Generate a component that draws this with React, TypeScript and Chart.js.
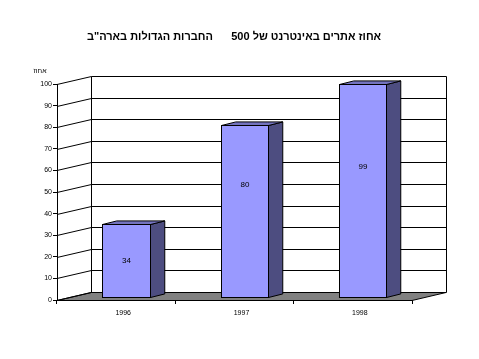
import React, { useEffect, useRef } from "react";
import { Chart, registerables } from "chart.js";
Chart.register(...registerables);

const TITLE = 'אחוז אתרים באינטרנט של 500      החברות הגדולות בארה"ב';
const AXIS_UNIT = "אחוז";
const YEARS = ["1996", "1997", "1998"];
const VALUES = [34, 80, 99];
const LABEL_FRAC = [0.5, 0.65, 0.61];
const Y_MIN = 0;
const Y_MAX = 100;
const Y_STEP = 10;

const FONT = "Arial, 'Liberation Sans', sans-serif";
const DX = 34;
const DY = -8.5;
const BAR_FRONT = 0.29;
const BAR_BACK = 0.71;
const FRONT_COLOR = "#9999FF";
const SIDE_COLOR = "#4D4D80";
const TOP_COLOR = "#7373BF";
const FLOOR_COLOR = "#808080";

const threeD = {
  id: "threeD",
  beforeDatasetsDraw(chart: any) {
    const { ctx, chartArea, scales } = chart;
    const { left, right, bottom } = chartArea;
    const y = scales.y;
    ctx.save();
    ctx.strokeStyle = "#000";
    ctx.lineWidth = 1;
    // floor
    const fb = Math.round(bottom + DY) + 0.5;
    ctx.fillStyle = FLOOR_COLOR;
    ctx.beginPath();
    ctx.moveTo(left, bottom + 0.5);
    ctx.lineTo(right, bottom + 0.5);
    ctx.lineTo(right + DX, fb);
    ctx.lineTo(left + DX, fb);
    ctx.closePath();
    ctx.fill();
    ctx.stroke();
    // gridlines on back wall
    const topBack = Math.round(y.getPixelForValue(Y_MAX) + DY) + 0.5;
    y.ticks.forEach((t: any) => {
      const py = Math.round(y.getPixelForValue(t.value)) + 0.5;
      const by = Math.round(py + DY) + 0.5;
      ctx.beginPath();
      ctx.moveTo(left, py);
      ctx.lineTo(left + DX + 0.5, by);
      ctx.lineTo(right + DX + 0.5, by);
      ctx.stroke();
    });
    ctx.beginPath();
    ctx.moveTo(left + DX + 0.5, topBack);
    ctx.lineTo(left + DX + 0.5, fb);
    ctx.moveTo(right + DX + 0.5, topBack);
    ctx.lineTo(right + DX + 0.5, fb);
    ctx.stroke();
    ctx.restore();
  },
  afterDatasetsDraw(chart: any) {
    const { ctx, scales } = chart;
    const y = scales.y;
    const meta = chart.getDatasetMeta(0);
    ctx.save();
    ctx.strokeStyle = "#000";
    ctx.lineWidth = 1;
    meta.data.forEach((bar: any, i: number) => {
      const p = bar.getProps(["x", "y", "base", "width"], true);
      const ox = BAR_FRONT * DX;
      const oy = BAR_FRONT * DY;
      const ddx = (BAR_BACK - BAR_FRONT) * DX;
      const ddy = (BAR_BACK - BAR_FRONT) * DY;
      const x0 = Math.round(p.x - p.width / 2 + ox) + 0.5;
      const x1 = Math.round(p.x + p.width / 2 + ox) + 0.5;
      const yt = Math.round(p.y + oy) + 0.5;
      const yb = Math.round(p.base + oy) + 0.5;
      // side
      ctx.fillStyle = SIDE_COLOR;
      ctx.beginPath();
      ctx.moveTo(x1, yt);
      ctx.lineTo(x1 + ddx, yt + ddy);
      ctx.lineTo(x1 + ddx, yb + ddy);
      ctx.lineTo(x1, yb);
      ctx.closePath();
      ctx.fill();
      ctx.stroke();
      // top
      ctx.fillStyle = TOP_COLOR;
      ctx.beginPath();
      ctx.moveTo(x0, yt);
      ctx.lineTo(x0 + ddx, yt + ddy);
      ctx.lineTo(x1 + ddx, yt + ddy);
      ctx.lineTo(x1, yt);
      ctx.closePath();
      ctx.fill();
      ctx.stroke();
      // front
      ctx.fillStyle = FRONT_COLOR;
      ctx.fillRect(x0, yt, x1 - x0, yb - yt);
      ctx.strokeRect(x0, yt, x1 - x0, yb - yt);
      // label
      const v = VALUES[i];
      ctx.fillStyle = "#000";
      ctx.font = `8px ${FONT}`;
      ctx.textAlign = "center";
      ctx.textBaseline = "middle";
      ctx.fillText(String(v), (x0 + x1) / 2, y.getPixelForValue(v * LABEL_FRAC[i]) + oy);
    });
    ctx.restore();
  },
  afterDraw(chart: any) {
    const { ctx } = chart;
    ctx.save();
    ctx.fillStyle = "#000";
    ctx.direction = "rtl";
    ctx.textAlign = "center";
    ctx.textBaseline = "middle";
    ctx.font = `bold 11px ${FONT}`;
    ctx.fillText(TITLE, 234, 37);
    ctx.font = `7px ${FONT}`;
    ctx.fillText(AXIS_UNIT, 40, 71);
    ctx.restore();
  },
};

export default function App() {
  const ref = useRef<HTMLCanvasElement>(null);
  useEffect(() => {
    document.body.style.margin = "0";
    const chart = new Chart(ref.current as HTMLCanvasElement, {
      type: "bar",
      data: {
        labels: YEARS,
        datasets: [
          {
            data: VALUES,
            backgroundColor: "rgba(0,0,0,0)",
            borderWidth: 0,
            barPercentage: 0.4,
            categoryPercentage: 1,
          },
        ],
      },
      options: {
        responsive: false,
        animation: false,
        devicePixelRatio: 1,
        layout: { padding: { top: 84, right: 67, left: 0, bottom: 0 } },
        plugins: {
          legend: { display: false },
          tooltip: { enabled: false },
          title: { display: false },
        },
        scales: {
          x: {
            grid: { display: true, drawOnChartArea: false, tickLength: 4, color: "#000", offset: true },
            border: { display: true, color: "#000" },
            ticks: { color: "#000", font: { size: 7, family: FONT }, padding: 5, maxRotation: 0, labelOffset: 7 },
            afterFit: (s: any) => {
              s.height = 59;
            },
          },
          y: {
            min: Y_MIN,
            max: Y_MAX,
            ticks: { stepSize: Y_STEP, color: "#000", font: { size: 7, family: FONT }, padding: 1 },
            grid: { drawOnChartArea: false, tickLength: 4, color: "#000" },
            border: { display: true, color: "#000" },
            afterFit: (s: any) => {
              s.width = 57;
            },
          },
        },
      } as any,
      plugins: [threeD],
    });
    return () => chart.destroy();
  }, []);
  return (
    <canvas
      ref={ref}
      width={479}
      height={359}
      style={{ position: "absolute", left: 0, top: 0, width: 479, height: 359 }}
    />
  );
}
